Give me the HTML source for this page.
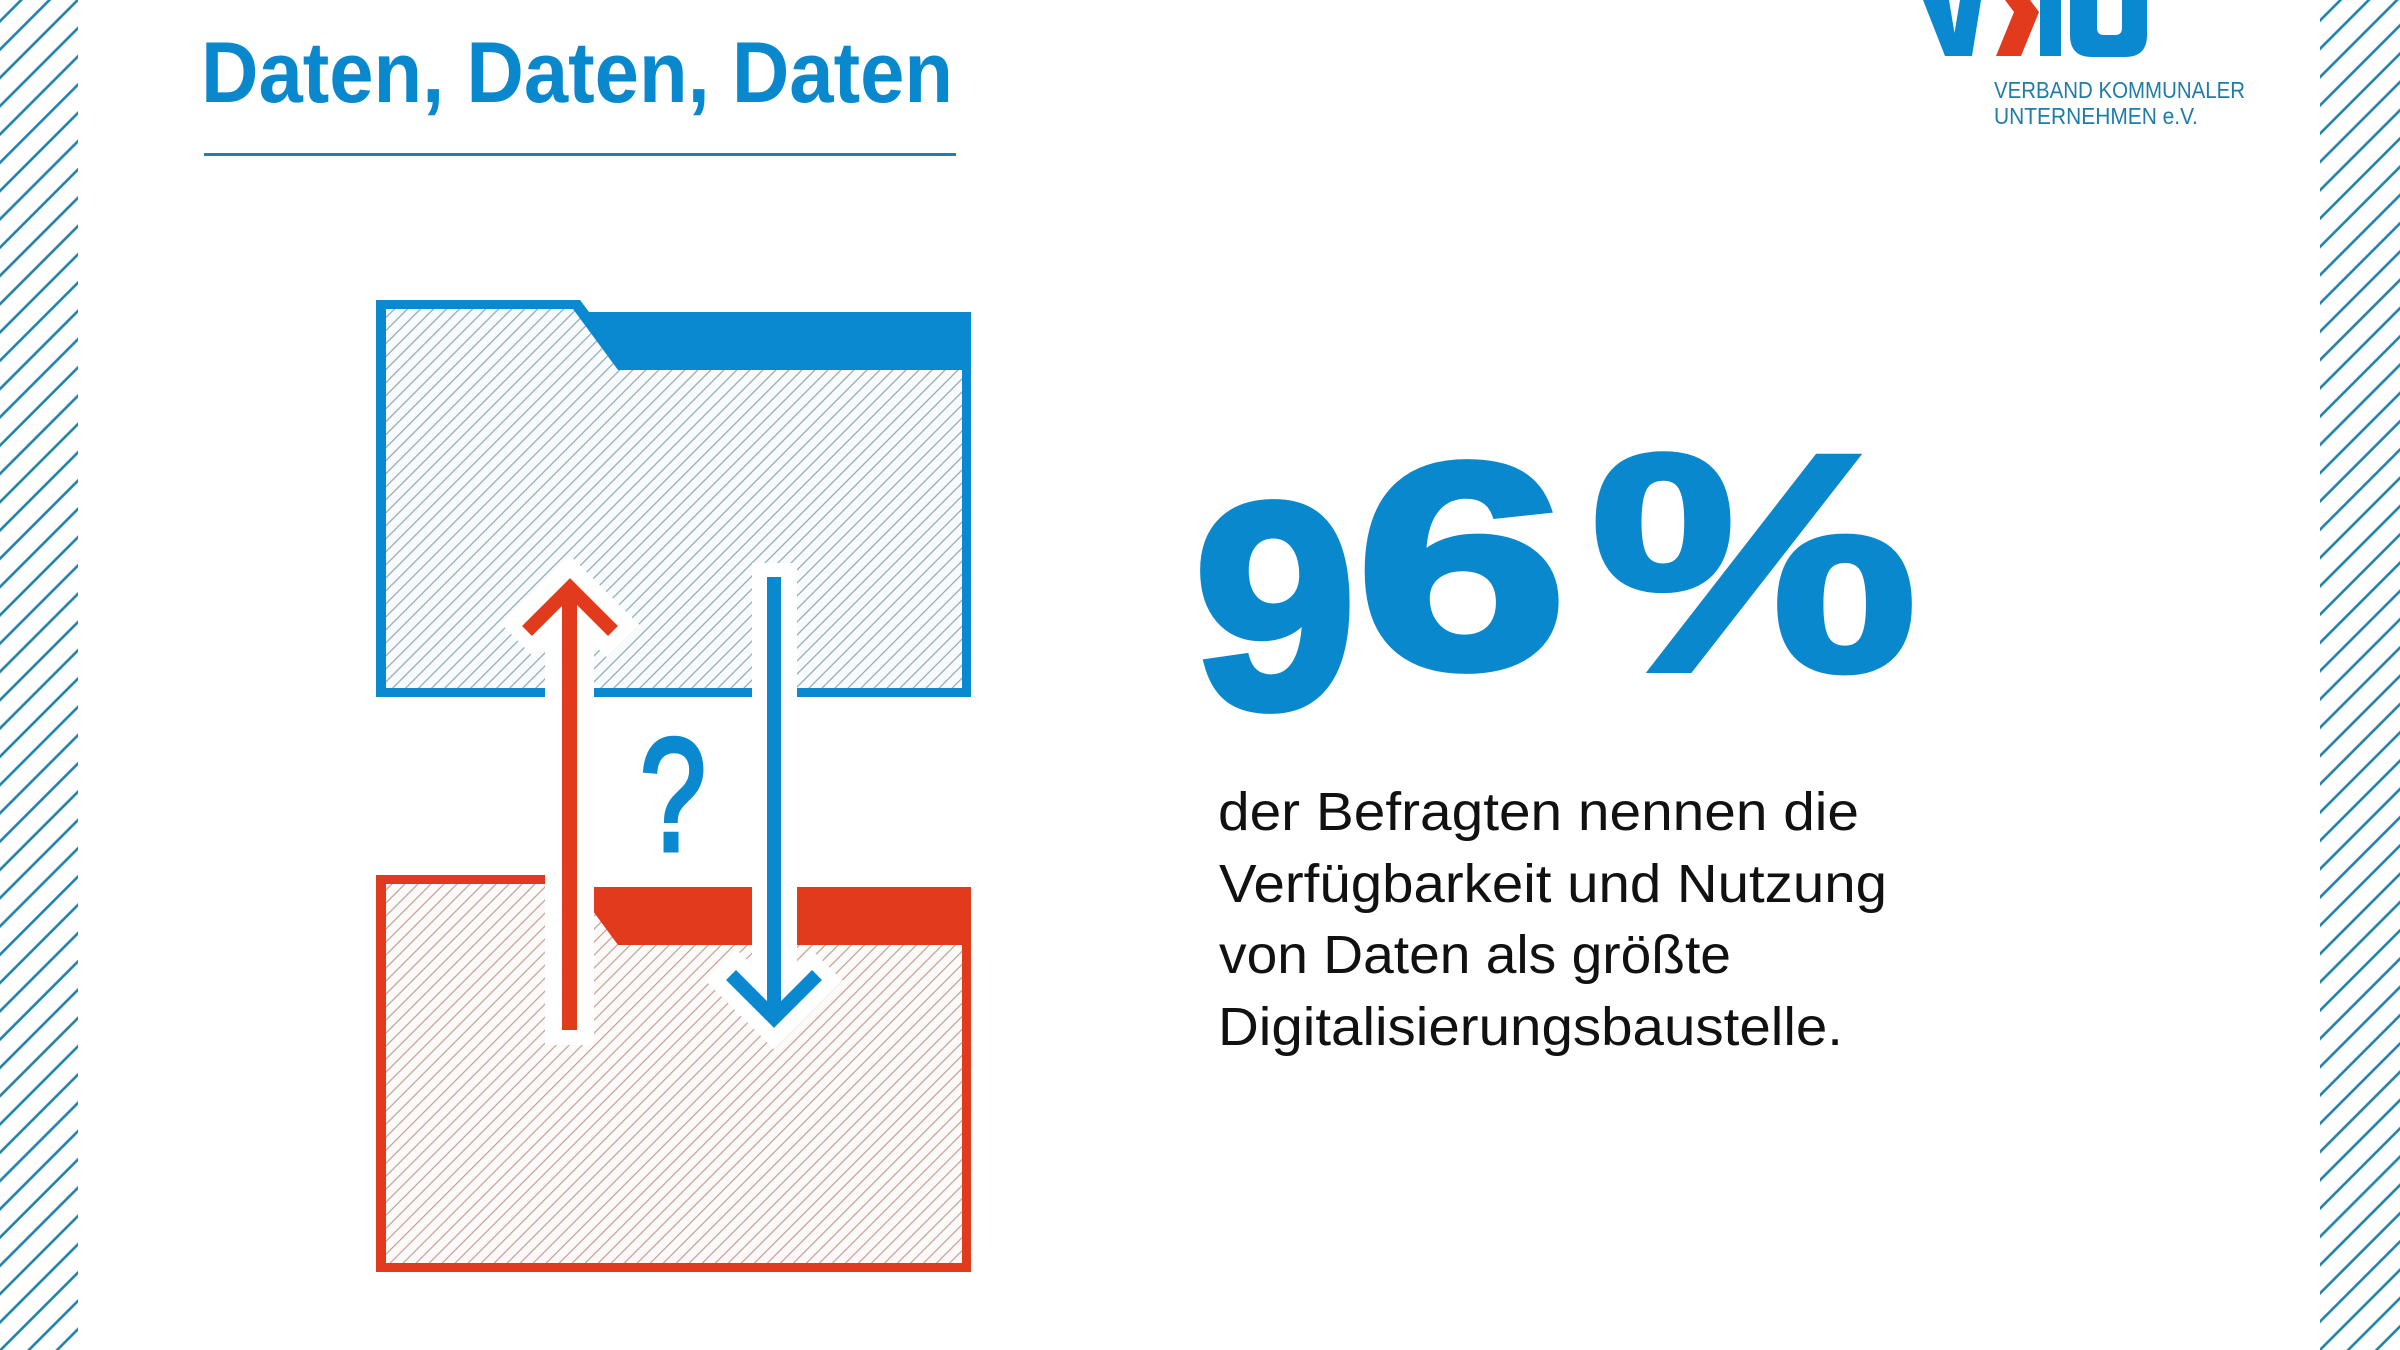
<!DOCTYPE html>
<html>
<head>
<meta charset="utf-8">
<style>
  html,body{margin:0;padding:0;background:#fff;}
  svg{display:block;}
  text{font-family:"Liberation Sans",sans-serif;}
</style>
</head>
<body>
<svg width="2400" height="1350" viewBox="0 0 2400 1350" xmlns="http://www.w3.org/2000/svg">
  <defs>
    <pattern id="st" patternUnits="userSpaceOnUse" width="20" height="20" patternTransform="rotate(-45)">
      <rect y="13.7" width="20" height="2.6" fill="#1f80aa"/>
    </pattern>
    <pattern id="hb" patternUnits="userSpaceOnUse" width="9.2" height="9.2" patternTransform="rotate(-45)">
      <rect width="9.2" height="9.2" fill="#f8fbfc"/>
      <rect y="0" width="9.2" height="1.2" fill="#8fa8b4"/>
    </pattern>
    <pattern id="hr" patternUnits="userSpaceOnUse" width="9.2" height="9.2" patternTransform="rotate(-45)">
      <rect width="9.2" height="9.2" fill="#fcfaf9"/>
      <rect y="0" width="9.2" height="1.2" fill="#c49f93"/>
    </pattern>
  </defs>

  <rect width="2400" height="1350" fill="#ffffff"/>

  <!-- side stripe bands -->
  <rect x="0" y="0" width="78" height="1350" fill="url(#st)"/>
  <rect x="2320" y="0" width="80" height="1350" fill="url(#st)"/>

  <!-- title -->
  <text x="201" y="102" font-size="86" font-weight="bold" fill="#0a88cd" textLength="752" lengthAdjust="spacingAndGlyphs">Daten, Daten, Daten</text>
  <rect x="204" y="153" width="752" height="3" fill="#2080aa"/>

  <!-- VKU logo -->
  <polygon points="1923,0 1949,0 1954.5,33 1960,0 1981,0 1972,56 1945,56" fill="#0b89d0"/>
  <polygon points="2005,0 2030,0 2039,12 2021,56 1996,56 2014,12" fill="#e23a1c"/>
  <rect x="2040" y="0" width="21" height="56" fill="#0b89d0"/>
  <path d="M2070,0 V35 Q2070,57 2092,57 H2125 Q2147,57 2147,35 V0 H2122 V28 Q2122,35 2115,35 H2104 Q2097,35 2097,28 V0 Z" fill="#0b89d0"/>
  <text x="1994" y="98" font-size="23" fill="#1e7ca6" textLength="251" lengthAdjust="spacingAndGlyphs">VERBAND KOMMUNALER</text>
  <text x="1994" y="124" font-size="23" fill="#1e7ca6" textLength="204" lengthAdjust="spacingAndGlyphs">UNTERNEHMEN e.V.</text>

  <!-- blue folder (top) -->
  <path d="M376,300 H580 L589,312 H971 V697 H376 Z" fill="#0b89d0"/>
  <path d="M386,309 H573 L618,370 H962 V688 H386 Z" fill="url(#hb)"/>

  <!-- red folder (bottom) -->
  <path d="M376,875 H580 L589,887 H971 V1272 H376 Z" fill="#e23a1c"/>
  <path d="M386,884 H573 L618,945 H962 V1263 H386 Z" fill="url(#hr)"/>

  <!-- white halos -->
  <rect x="545" y="600" width="49" height="445" fill="#fff"/>
  <polyline points="517,640 570,588 623,641" fill="none" stroke="#fff" stroke-width="46" stroke-linejoin="miter" stroke-miterlimit="4"/>
  <rect x="752" y="563" width="45" height="440" fill="#fff"/>
  <polyline points="721,965 774,1018 827,965" fill="none" stroke="#fff" stroke-width="44" stroke-linejoin="miter" stroke-miterlimit="4"/>

  <!-- red arrow (up) -->
  <rect x="562" y="592" width="15" height="438" fill="#e23a1c"/>
  <polyline points="527,631 570,588 613,631" fill="none" stroke="#e23a1c" stroke-width="14" stroke-linejoin="miter" stroke-miterlimit="4"/>

  <!-- blue arrow (down) -->
  <rect x="767" y="577" width="14" height="436" fill="#0b89d0"/>
  <polyline points="731,975 774,1018 817,975" fill="none" stroke="#0b89d0" stroke-width="14" stroke-linejoin="miter" stroke-miterlimit="4"/>

  <!-- question mark -->
  <text transform="translate(673,850) scale(0.74,1)" text-anchor="middle" font-size="160" fill="#0b89d0" stroke="#0b89d0" stroke-width="5">?</text>

  <!-- 96% -->
  <text transform="translate(1194,707) scale(1.0,1)" font-size="292" font-weight="bold" fill="#0a88cd" stroke="#0a88cd" stroke-width="8">9</text>
  <text transform="translate(1356,667) scale(1.3,1)" font-size="292" font-weight="bold" fill="#0a88cd" stroke="#0a88cd" stroke-width="8">6</text>
  <text transform="translate(1590,670) scale(1.19,1)" font-size="310" font-weight="bold" fill="#0a88cd" stroke="#0a88cd" stroke-width="6">%</text>

  <!-- paragraph -->
  <text x="1218" y="830" font-size="54" fill="#111111" textLength="641" lengthAdjust="spacingAndGlyphs">der Befragten nennen die</text>
  <text x="1219" y="902" font-size="54" fill="#111111" textLength="668" lengthAdjust="spacingAndGlyphs">Verfügbarkeit und Nutzung</text>
  <text x="1219" y="973" font-size="54" fill="#111111" textLength="512" lengthAdjust="spacingAndGlyphs">von Daten als größte</text>
  <text x="1218" y="1045" font-size="54" fill="#111111" textLength="625" lengthAdjust="spacingAndGlyphs">Digitalisierungsbaustelle.</text>
</svg>
</body>
</html>
